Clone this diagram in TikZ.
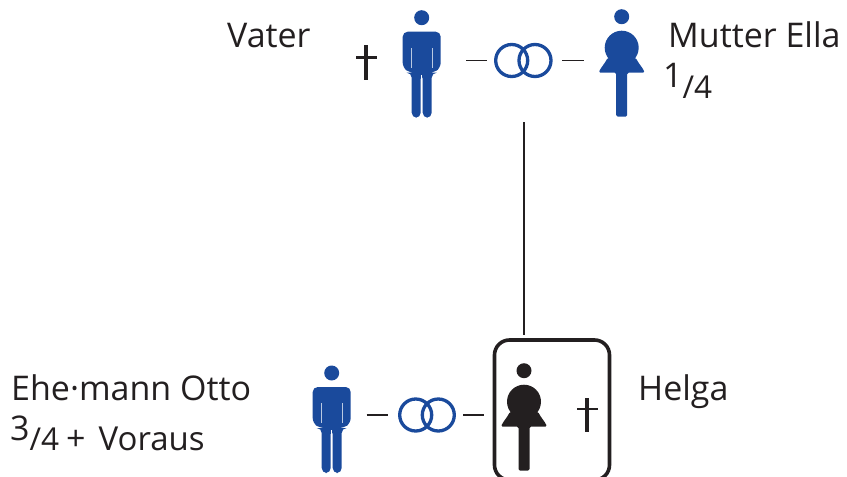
\documentclass[tikz,border=0pt]{standalone}
\usepackage{fontspec}
\setmainfont{Open Sans}
\definecolor{pblue}{HTML}{1A4A9C}
\definecolor{pblack}{HTML}{231F20}
\newcommand{\fracpart}[1]{{\fontsize{31.5}{36}\selectfont #1}}
\tikzset{
  x=1pt,y=-1pt,
  lab/.style={anchor=base west,inner sep=0pt,text=pblack,font=\fontsize{34}{40}\selectfont},
  ring/.style={draw=pblue,line width=3.3pt,circle,minimum size=32pt,inner sep=0pt},
  dashline/.style={draw=pblack,line width=1.4pt},
  crossv/.style={draw=pblack,line width=3.6pt},
  crossh/.style={draw=pblack,line width=2.6pt},
  conn/.style={draw=pblack,line width=1.3pt},
  man/.pic={
    \fill[pic actions] (0,0) circle (7.5);
    \fill[pic actions,rounded corners=5pt] (-19,14) -- (19,14) -- (19,50) -- (12,55) -- (10,55) -- (10,100) -- (1,100) -- (1,56) -- (-1,56) -- (-1,100) -- (-10,100) -- (-10,55) -- (-12,55) -- (-19,50) -- cycle;
    \fill[white!70!pblue] (-11,30) rectangle (-10.3,50);
    \fill[white!70!pblue] (10.3,30) rectangle (11,50);
    \fill[white] (-0.7,57) rectangle (0.7,99);
  },
  woman/.pic={
    \fill[pic actions] (0,0) circle (7.5);
    \fill[pic actions] (0,31) circle (17);
    \fill[pic actions,rounded corners=1.5pt] (-14,41) .. controls (-17,47) and (-21,51) .. (-23,56) -- (-5.5,56) -- (-5.5,100) -- (5.5,100) -- (5.5,56) -- (23,56) .. controls (21,51) and (17,47) .. (14,41) -- cycle;
  }
}
\begin{document}
\begin{tikzpicture}
\useasboundingbox (0,0) rectangle (847,477);
% top row
\node[lab] (vater) at (227,47) {Vater};
\node[lab] (mutter) at (668,47) {Mutter Ella};
\node[lab] (viertel) at (663,98) {\raisebox{11pt}{1}\fracpart{/4}};
\draw[crossv] (365.7,45) -- (365.7,80);
\draw[crossh] (356,57.5) -- (377,57.5);
\pic[fill=pblue] (vatericon) at (421.7,17.7) {man};
\pic[fill=pblue] (muttericon) at (621.7,16.7) {woman};
\node[ring] (r1) at (511.7,60.5) {};
\node[ring] (r2) at (535,60.5) {};
\coordinate (d1a) at (466,60.5); \coordinate (d1b) at (487,60.5);
\coordinate (d2a) at (562,60.5); \coordinate (d2b) at (584,60.5);
\draw[dashline] (d1a) -- (d1b) (d2a) -- (d2b);
% bottom row
\node[lab] (otto) at (11,400) {Ehe·mann Otto};
\node[lab] (voraus) at (10,450) {\raisebox{10pt}{3}\fracpart{/4}\hspace{7pt}+\hspace{13pt}{\fontsize{33}{38}\selectfont Voraus}};
\node[lab] (helga) at (638,400) {Helga};
\pic[fill=pblue] (ottoicon) at (331.7,373) {man};
\pic[fill=pblack] (helgaicon) at (524,370.7) {woman};
\node[ring] (r3) at (415.7,415) {};
\node[ring] (r4) at (438.3,415) {};
\coordinate (d3a) at (366.5,415); \coordinate (d3b) at (388,415);
\coordinate (d4a) at (463,415); \coordinate (d4b) at (484,415);
\draw[dashline] (d3a) -- (d3b) (d4a) -- (d4b);
\draw[crossv] (586.7,398) -- (586.7,432);
\draw[crossh] (577,409) -- (598,409);
\begin{scope}
\clip (0,0) rectangle (847,477);
\draw[draw=pblack,line width=3.6pt,rounded corners=15pt] (494.5,340) rectangle (609.5,480);
\end{scope}
% descent line
\coordinate (desc) at (524,122);
\coordinate (boxtop) at (524,335);
\draw[conn] (desc) -- (boxtop);
\end{tikzpicture}
\end{document}
